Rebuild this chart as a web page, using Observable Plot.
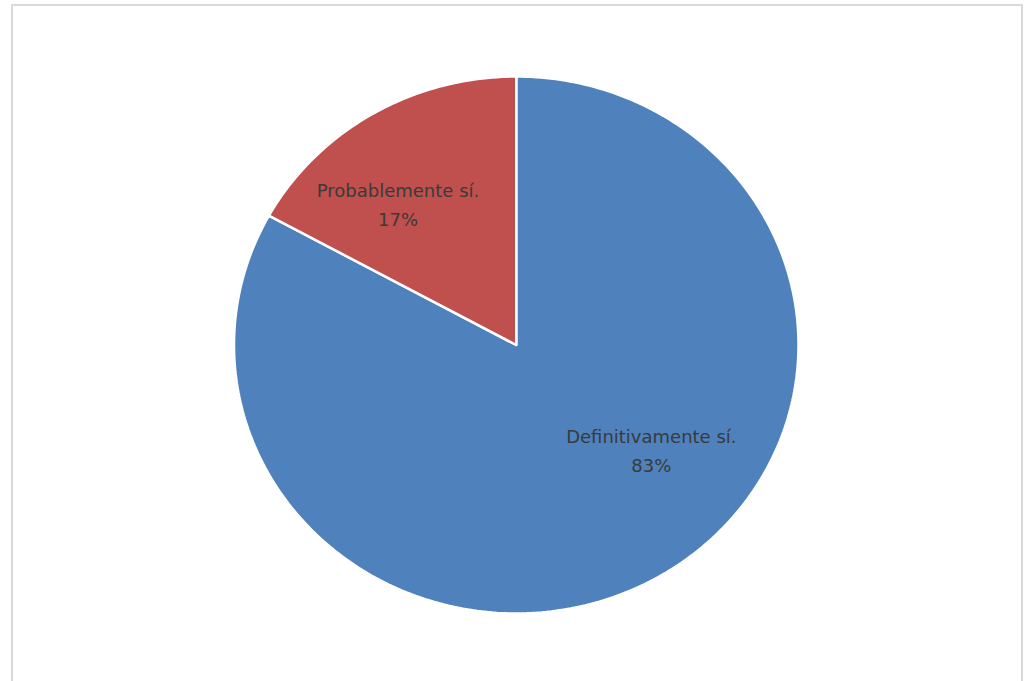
<!DOCTYPE html>
<html>
<head>
<meta charset="utf-8">
<script src="https://cdn.jsdelivr.net/npm/d3@7"></script>
<script src="https://cdn.jsdelivr.net/npm/@observablehq/plot@0.6"></script>
<style>
  html, body { margin: 0; padding: 0; background: #ffffff; }
  #wrap { position: relative; width: 1031px; height: 681px; overflow: hidden; }
  #border { position: absolute; left: 11px; top: 4px; width: 1012px; height: 700px;
            border: 2px solid #d9d9d9; box-sizing: border-box; pointer-events: none; }
  #chart { position: absolute; left: 0; top: 0; }
</style>
</head>
<body>
<div id="wrap"><div id="chart"></div><div id="border"></div></div>
<script>
const categories = ["Definitivamente sí.", "Probablemente sí."];
const values = [83, 17];
const colors = ["#4f81bd", "#c0504d"];
const percentLabels = ["83%", "17%"];

const data = categories.map((name, i) => ({name, value: values[i], pct: percentLabels[i]}));

const arcs = d3.pie().sort(null).value(d => d.value)(data);

// polygon outline of each slice (unit circle; angle 0 at top, clockwise)
const slicePoints = arcs.flatMap(a => {
  const pts = [{name: a.data.name, x: 0, y: 0}];
  const n = Math.max(2, Math.ceil((a.endAngle - a.startAngle) / (Math.PI / 180)));
  for (let k = 0; k <= n; k++) {
    const t = a.startAngle + (a.endAngle - a.startAngle) * k / n;
    pts.push({name: a.data.name, x: Math.sin(t), y: Math.cos(t)});
  }
  pts.push({name: a.data.name, x: 0, y: 0});
  return pts;
});

function centroid(a, r) {
  const t = (a.startAngle + a.endAngle) / 2;
  return {name: a.data.name, label: a.data.name + "\n" + a.data.pct, x: r * Math.sin(t), y: r * Math.cos(t)};
}
const labelBlue = [centroid(arcs[0], 0.62)];
const labelRed = [centroid(arcs[1], 0.67)];

const textStyle = {
  text: "label", fontSize: 18, fill: "#3a3a3a", lineHeight: 1.6,
  fontFamily: "'DejaVu Sans', sans-serif", textAnchor: "middle"
};

const chart = Plot.plot({
  width: 1031,
  height: 681,
  margin: 0,
  style: {background: "transparent"},
  x: {domain: [-1, 1], range: [233.5, 798], axis: null},
  y: {domain: [-1, 1], range: [613, 76], axis: null},
  color: {domain: categories, range: colors},
  marks: [
    Plot.line(slicePoints, {x: "x", y: "y", z: "name", fill: "name", stroke: "#ffffff", strokeWidth: 2.5, strokeLinejoin: "miter"}),
    Plot.text(labelBlue, {x: "x", y: "y", ...textStyle, dx: 46, dy: -40}),
    Plot.text(labelRed, {x: "x", y: "y", ...textStyle, dx: -22, dy: 12})
  ]
});
document.getElementById("chart").appendChild(chart);
</script>
</body>
</html>
